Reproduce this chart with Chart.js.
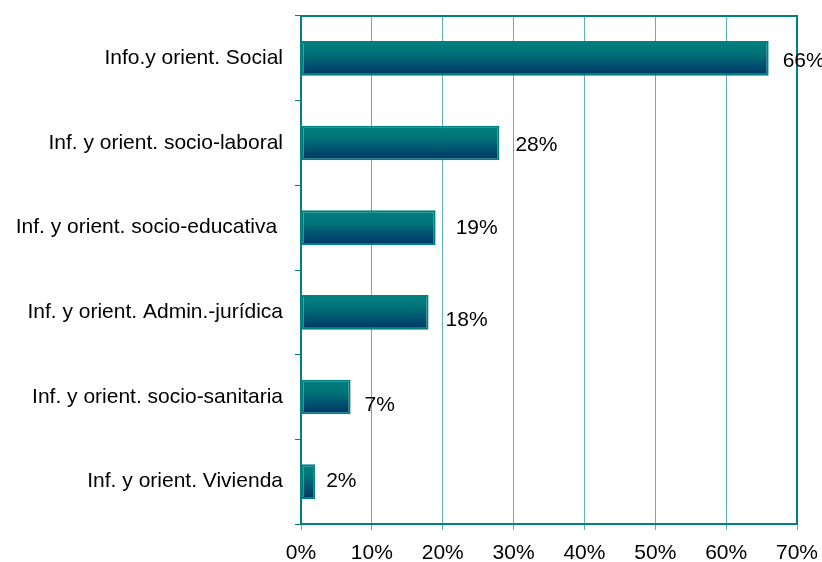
<!DOCTYPE html>
<html>
<head>
<meta charset="utf-8">
<script src="https://cdn.jsdelivr.net/npm/chart.js@4"></script>
<style>
    html, body { margin: 0; padding: 0; background: #fff; }
    #wrap { width: 822px; height: 562px; }
</style>
</head>
<body>
<div id="wrap"><canvas id="chart" width="822" height="562"></canvas></div>
<script>
"use strict";

const categories = [
    "Info.y orient. Social",
    "Inf. y orient. socio-laboral",
    "Inf. y orient. socio-educativa ",
    "Inf. y orient. Admin.-jurídica",
    "Inf. y orient. socio-sanitaria",
    "Inf. y orient. Vivienda"
];
const values = [66, 28, 19, 18, 7, 2];
const tickLabels = ["0%", "10%", "20%", "30%", "40%", "50%", "60%", "70%"];

// small nudges of the value labels, as in the original
const labelDx = [14, 16, 20, 17, 14, 11];
const labelDy = [3, 2, 1, 8, 8, 0];

const teal = "#008080";
const font = "Liberation Sans, Arial, sans-serif";
const fontSize = 21;

// gradient fill for every bar (teal on top, navy below)
const barGradient = {
    id: "barGradient",
    beforeDatasetsDraw(chart) {
        const ctx = chart.ctx;
        chart.getDatasetMeta(0).data.forEach(bar => {
            const top = bar.y - bar.height / 2;
            const g = ctx.createLinearGradient(0, top, 0, top + bar.height);
            g.addColorStop(0, "#008080");
            g.addColorStop(0.35, "#007379");
            g.addColorStop(1, "#003366");
            bar.options = Object.assign({}, bar.options, { backgroundColor: g });
        });
    }
};

// frame round the plot area
const plotFrame = {
    id: "plotFrame",
    afterDatasetsDraw(chart) {
        const a = chart.chartArea;
        const ctx = chart.ctx;
        ctx.save();
        ctx.strokeStyle = teal;
        ctx.lineWidth = 2;
        ctx.strokeRect(a.left, a.top, a.right - a.left, a.bottom - a.top);
        ctx.restore();
    }
};

// value labels to the right of the bars
const valueLabels = {
    id: "valueLabels",
    afterDraw(chart) {
        const ctx = chart.ctx;
        ctx.save();
        ctx.fillStyle = "#000";
        ctx.font = fontSize + "px " + font;
        ctx.textBaseline = "middle";
        ctx.textAlign = "left";
        chart.getDatasetMeta(0).data.forEach((bar, i) => {
            ctx.fillText(values[i] + "%", bar.x + labelDx[i], bar.y + labelDy[i]);
        });
        ctx.restore();
    }
};

new Chart(document.getElementById("chart").getContext("2d"), {
    type: "bar",
    data: {
        labels: categories,
        datasets: [{
            data: values,
            backgroundColor: teal,
            borderColor: teal,
            borderWidth: 2,
            borderSkipped: false,
            barPercentage: 0.41,
            categoryPercentage: 1
        }]
    },
    plugins: [barGradient, plotFrame, valueLabels],
    options: {
        indexAxis: "y",
        responsive: false,
        animation: false,
        layout: { padding: { top: 16, right: 25, left: 0, bottom: 0 } },
        plugins: {
            legend: { display: false },
            tooltip: { enabled: false }
        },
        scales: {
            x: {
                min: 0,
                max: 70,
                ticks: {
                    stepSize: 10,
                    color: "#000",
                    font: { family: font, size: fontSize },
                    padding: 11,
                    callback: (v, i) => tickLabels[i]
                },
                grid: {
                    color: "#5fb0b0",
                    lineWidth: 1,
                    tickLength: 6,
                    drawTicks: true
                },
                border: { display: false },
                afterFit: scale => {
                    scale.height = 38;
                    scale.paddingLeft = 0;
                    scale.paddingRight = 0;
                }
            },
            y: {
                ticks: {
                    color: "#000",
                    font: { family: font, size: fontSize },
                    padding: 12
                },
                grid: {
                    drawOnChartArea: false,
                    color: teal,
                    tickLength: 6,
                    offset: true
                },
                border: { display: false },
                afterFit: scale => {
                    scale.width = 301;
                    scale.paddingTop = 0;
                    scale.paddingBottom = 0;
                }
            }
        }
    }
});
</script>
</body>
</html>
